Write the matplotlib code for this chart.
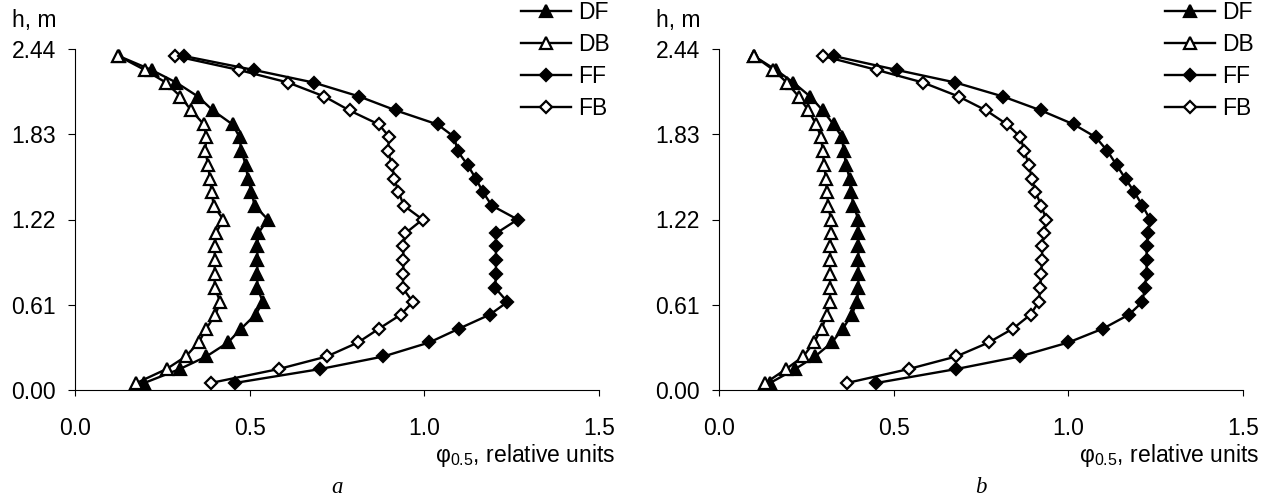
import matplotlib
matplotlib.use("Agg")
import matplotlib.pyplot as plt

plt.rcParams['font.family'] = ['Liberation Sans', 'DejaVu Sans']
plt.rcParams['mathtext.default'] = 'regular'

# heights of the measuring points, m (bottom to top)
heights = [0.05, 0.15, 0.24, 0.34, 0.44, 0.54, 0.63, 0.73, 0.83, 0.93,
           1.03, 1.12, 1.22, 1.32, 1.42, 1.51, 1.61, 1.71, 1.81, 1.90,
           2.00, 2.10, 2.20, 2.29, 2.39]

# panel a
a_DF = [0.198, 0.300, 0.376, 0.438, 0.476, 0.517, 0.538, 0.522, 0.522, 0.522,
        0.522, 0.524, 0.552, 0.514, 0.505, 0.495, 0.489, 0.476, 0.471, 0.451,
        0.395, 0.352, 0.290, 0.219, 0.125]
a_DB = [0.176, 0.262, 0.317, 0.354, 0.376, 0.402, 0.416, 0.400, 0.400, 0.400,
        0.400, 0.403, 0.424, 0.397, 0.391, 0.386, 0.381, 0.373, 0.376, 0.369,
        0.333, 0.302, 0.260, 0.200, 0.124]
a_FF = [0.457, 0.702, 0.883, 1.014, 1.100, 1.188, 1.238, 1.203, 1.205, 1.205,
        1.205, 1.205, 1.267, 1.193, 1.167, 1.148, 1.124, 1.095, 1.086, 1.038,
        0.919, 0.814, 0.683, 0.512, 0.311]
a_FB = [0.388, 0.583, 0.721, 0.810, 0.871, 0.933, 0.967, 0.938, 0.940, 0.940,
        0.940, 0.945, 0.995, 0.941, 0.926, 0.914, 0.908, 0.895, 0.900, 0.870,
        0.786, 0.714, 0.610, 0.469, 0.286]

# panel b
b_DF = [0.146, 0.218, 0.275, 0.323, 0.355, 0.380, 0.395, 0.399, 0.399, 0.399,
        0.399, 0.399, 0.399, 0.385, 0.378, 0.374, 0.364, 0.357, 0.352, 0.328,
        0.297, 0.261, 0.213, 0.163, 0.100]
b_DB = [0.133, 0.192, 0.241, 0.272, 0.294, 0.309, 0.318, 0.318, 0.318, 0.318,
        0.318, 0.320, 0.320, 0.313, 0.309, 0.306, 0.301, 0.297, 0.292, 0.278,
        0.256, 0.228, 0.194, 0.156, 0.100]
b_FF = [0.450, 0.679, 0.861, 1.000, 1.100, 1.174, 1.212, 1.219, 1.224, 1.224,
        1.224, 1.228, 1.234, 1.212, 1.188, 1.164, 1.138, 1.112, 1.078, 1.016,
        0.922, 0.813, 0.677, 0.509, 0.328]
b_FB = [0.366, 0.543, 0.679, 0.772, 0.842, 0.892, 0.915, 0.920, 0.922, 0.925,
        0.925, 0.930, 0.937, 0.922, 0.906, 0.896, 0.887, 0.874, 0.863, 0.825,
        0.765, 0.686, 0.584, 0.452, 0.297]

y_ticks = [0.00, 0.61, 1.22, 1.83, 2.44]
x_ticks = [0.0, 0.5, 1.0, 1.5]

W, H = 1277, 501
FS = 16.5

fig = plt.figure(figsize=(W / 100, H / 100), dpi=100)


def draw_panel(left_px, series, letter):
    ax = fig.add_axes([left_px / W, (H - 390) / H, 524 / W, 341 / H])
    styles = {
        'DF': dict(marker='^', ms=9, mfc='black', zorder=3),
        'DB': dict(marker='^', ms=9, mfc='white', zorder=4),
        'FF': dict(marker='D', ms=6.3, mfc='black', zorder=5),
        'FB': dict(marker='D', ms=6.3, mfc='white', zorder=4),
    }
    for name, vals in series:
        ax.plot(vals, heights, color='black', lw=1.7, mec='black', mew=1.6,
                label=name, clip_on=False, **styles[name])

    ax.set_xlim(0, 1.5)
    ax.set_ylim(0, 2.44)
    ax.set_xticks(x_ticks)
    ax.set_xticklabels(['%.1f' % v for v in x_ticks])
    ax.set_yticks(y_ticks)
    ax.set_yticklabels(['%.2f' % v for v in y_ticks])
    ax.tick_params(axis='x', length=4.3, width=0.8, pad=15, labelsize=FS)
    ax.tick_params(axis='y', length=5.2, width=0.8, pad=8.5, labelsize=FS)
    ax.spines['top'].set_visible(False)
    ax.spines['right'].set_visible(False)
    for s in ('left', 'bottom'):
        ax.spines[s].set_linewidth(0.8)

    ax.legend(loc='upper left', bbox_to_anchor=((left_px + 446) / W, 0.998),
              bbox_transform=fig.transFigure, frameon=False, fontsize=FS,
              handlelength=2.2, handletextpad=0.3, labelspacing=0.39,
              borderpad=0, borderaxespad=0)

    fig.text((left_px - 63) / W, 1 - 27 / H, 'h, m', fontsize=FS,
             ha='left', va='baseline')
    fig.text((left_px + 540) / W, 1 - 462 / H,
             r'$\mathregular{φ_{0.5}}$, relative units', fontsize=FS,
             ha='right', va='baseline')
    fig.text((left_px + 262) / W, 1 - 493 / H, letter, fontsize=FS,
             family='Liberation Serif', style='italic',
             ha='center', va='baseline')
    return ax


draw_panel(75, [('DF', a_DF), ('DB', a_DB), ('FF', a_FF), ('FB', a_FB)], 'a')
draw_panel(719, [('DF', b_DF), ('DB', b_DB), ('FF', b_FF), ('FB', b_FB)], 'b')

fig.savefig('out.png', dpi=100)
